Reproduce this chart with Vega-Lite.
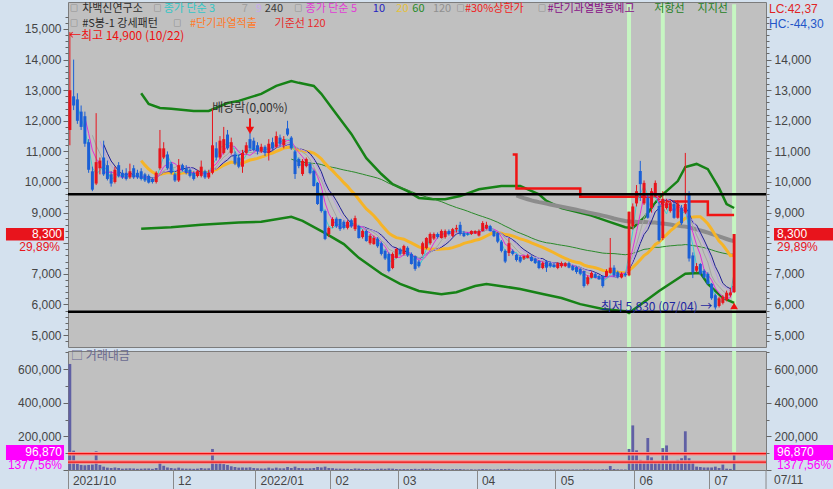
{
"$schema":"https://vega.github.io/schema/vega-lite/v6.json",
"padding":{"left":5,"top":1,"right":0,"bottom":0},
"config":{"background":"#d4e1ee","view":{"fill":"#c0c0c0","stroke":"#7c7c7c","strokeWidth":1},"font":"Noto Sans CJK KR","axis":{"labelFont":"Liberation Sans","labelFontSize":12,"labelColor":"#454545","tickColor":"#666666","domain":false,"grid":false},"text":{"font":"Noto Sans CJK KR","fontSize":11}},
"datasets":{
"px":[
{"d":"2021-10-22","o":11700,"h":14900,"l":11200,"c":13000,"v":630000},
{"d":"2021-10-25","o":12800,"h":14000,"l":12350,"c":12500,"v":115000},
{"d":"2021-10-26","o":12700,"h":12900,"l":11900,"c":12000,"v":38000},
{"d":"2021-10-27","o":12300,"h":12500,"l":11700,"c":11800,"v":30000},
{"d":"2021-10-28","o":12150,"h":12300,"l":11150,"c":11250,"v":28000},
{"d":"2021-10-29","o":11300,"h":11400,"l":10300,"c":10400,"v":30000},
{"d":"2021-11-01","o":10350,"h":10500,"l":9700,"c":9750,"v":32000},
{"d":"2021-11-02","o":9950,"h":12250,"l":9900,"c":10650,"v":111000},
{"d":"2021-11-03","o":10450,"h":10800,"l":10250,"c":10700,"v":30000},
{"d":"2021-11-04","o":10800,"h":11350,"l":10200,"c":10250,"v":20000},
{"d":"2021-11-05","o":10550,"h":10700,"l":10050,"c":10100,"v":14000},
{"d":"2021-11-08","o":10250,"h":10350,"l":9850,"c":9950,"v":12000},
{"d":"2021-11-09","o":10000,"h":10500,"l":9950,"c":10400,"v":15000},
{"d":"2021-11-10","o":10550,"h":10650,"l":10150,"c":10200,"v":12000},
{"d":"2021-11-11","o":10300,"h":10400,"l":10100,"c":10150,"v":8000},
{"d":"2021-11-12","o":10300,"h":10450,"l":10050,"c":10100,"v":9000},
{"d":"2021-11-15","o":10150,"h":10600,"l":10100,"c":10350,"v":10000},
{"d":"2021-11-16","o":10450,"h":10550,"l":10100,"c":10150,"v":9000},
{"d":"2021-11-17","o":10300,"h":10400,"l":10100,"c":10150,"v":7000},
{"d":"2021-11-18","o":10350,"h":10450,"l":10050,"c":10100,"v":8000},
{"d":"2021-11-19","o":10250,"h":10300,"l":10000,"c":10050,"v":9000},
{"d":"2021-11-22","o":10200,"h":10250,"l":9950,"c":9980,"v":9000},
{"d":"2021-11-23","o":10100,"h":10150,"l":9950,"c":10000,"v":7000},
{"d":"2021-11-24","o":10000,"h":10350,"l":9950,"c":10300,"v":12000},
{"d":"2021-11-25","o":10450,"h":11700,"l":10400,"c":11100,"v":48000},
{"d":"2021-11-26","o":10800,"h":11300,"l":10750,"c":11100,"v":25000},
{"d":"2021-11-29","o":10900,"h":11000,"l":10400,"c":10450,"v":15000},
{"d":"2021-11-30","o":10600,"h":10650,"l":10250,"c":10300,"v":12000},
{"d":"2021-12-01","o":10250,"h":10300,"l":10000,"c":10050,"v":9000},
{"d":"2021-12-02","o":10050,"h":10750,"l":10000,"c":10550,"v":14000},
{"d":"2021-12-03","o":10550,"h":10600,"l":10350,"c":10400,"v":9000},
{"d":"2021-12-06","o":10450,"h":10550,"l":10250,"c":10300,"v":8000},
{"d":"2021-12-07","o":10400,"h":10450,"l":10150,"c":10200,"v":8000},
{"d":"2021-12-08","o":10300,"h":10350,"l":10050,"c":10100,"v":7000},
{"d":"2021-12-09","o":10200,"h":10400,"l":10150,"c":10350,"v":8000},
{"d":"2021-12-10","o":10200,"h":10700,"l":10150,"c":10500,"v":12000},
{"d":"2021-12-13","o":10350,"h":10400,"l":10100,"c":10150,"v":9000},
{"d":"2021-12-14","o":10150,"h":10400,"l":10100,"c":10300,"v":10000},
{"d":"2021-12-15","o":10300,"h":12400,"l":10250,"c":11200,"v":125000},
{"d":"2021-12-16","o":11100,"h":11300,"l":10700,"c":10800,"v":40000},
{"d":"2021-12-17","o":10800,"h":11500,"l":10750,"c":11350,"v":50000},
{"d":"2021-12-20","o":10950,"h":11800,"l":10900,"c":11400,"v":35000},
{"d":"2021-12-21","o":11550,"h":11700,"l":11050,"c":11100,"v":30000},
{"d":"2021-12-22","o":10950,"h":11450,"l":10900,"c":11300,"v":22000},
{"d":"2021-12-23","o":10900,"h":11000,"l":10550,"c":10600,"v":18000},
{"d":"2021-12-24","o":10800,"h":10900,"l":10450,"c":10500,"v":14000},
{"d":"2021-12-27","o":10500,"h":11050,"l":10300,"c":10950,"v":15000},
{"d":"2021-12-28","o":10950,"h":11300,"l":10900,"c":11200,"v":14000},
{"d":"2021-12-29","o":11400,"h":11600,"l":11050,"c":11100,"v":16000},
{"d":"2021-12-30","o":11350,"h":11450,"l":11000,"c":11050,"v":12000},
{"d":"2022-01-03","o":11200,"h":11300,"l":10900,"c":11000,"v":10000},
{"d":"2022-01-04","o":11000,"h":11250,"l":10950,"c":11150,"v":9000},
{"d":"2022-01-05","o":11150,"h":11200,"l":10850,"c":10950,"v":9000},
{"d":"2022-01-06","o":10950,"h":11400,"l":10700,"c":11250,"v":14000},
{"d":"2022-01-07","o":11300,"h":11450,"l":11050,"c":11100,"v":9000},
{"d":"2022-01-10","o":11150,"h":11650,"l":11100,"c":11500,"v":14000},
{"d":"2022-01-11","o":11450,"h":11550,"l":11150,"c":11250,"v":10000},
{"d":"2022-01-12","o":11200,"h":11500,"l":11100,"c":11400,"v":10000},
{"d":"2022-01-13","o":11750,"h":12000,"l":11500,"c":11550,"v":18000},
{"d":"2022-01-14","o":11450,"h":11500,"l":11050,"c":11100,"v":12000},
{"d":"2022-01-17","o":11000,"h":11050,"l":10100,"c":10260,"v":20000},
{"d":"2022-01-18","o":10750,"h":10800,"l":10450,"c":10520,"v":12000},
{"d":"2022-01-19","o":10260,"h":10750,"l":10200,"c":10690,"v":11000},
{"d":"2022-01-20","o":10520,"h":10800,"l":10480,"c":10750,"v":9000},
{"d":"2022-01-21","o":10590,"h":10650,"l":10250,"c":10290,"v":10000},
{"d":"2022-01-24","o":10360,"h":10400,"l":9850,"c":9870,"v":12000},
{"d":"2022-01-25","o":9970,"h":10000,"l":9250,"c":9280,"v":18000},
{"d":"2022-01-26","o":9600,"h":9650,"l":9000,"c":9050,"v":15000},
{"d":"2022-01-27","o":9050,"h":9100,"l":8100,"c":8140,"v":20000},
{"d":"2022-01-28","o":8300,"h":8550,"l":8200,"c":8500,"v":12000},
{"d":"2022-02-03","o":8560,"h":8850,"l":8500,"c":8790,"v":11000},
{"d":"2022-02-04","o":8800,"h":8850,"l":8500,"c":8550,"v":8000},
{"d":"2022-02-07","o":8790,"h":8800,"l":8400,"c":8460,"v":8000},
{"d":"2022-02-08","o":8700,"h":8750,"l":8450,"c":8500,"v":7000},
{"d":"2022-02-09","o":8500,"h":8750,"l":8450,"c":8700,"v":7000},
{"d":"2022-02-10","o":8750,"h":8800,"l":8500,"c":8550,"v":6000},
{"d":"2022-02-11","o":8460,"h":8900,"l":8400,"c":8820,"v":9000},
{"d":"2022-02-14","o":8560,"h":8600,"l":8150,"c":8170,"v":8000},
{"d":"2022-02-15","o":8200,"h":8450,"l":8150,"c":8400,"v":6000},
{"d":"2022-02-16","o":8400,"h":8450,"l":8050,"c":8070,"v":6000},
{"d":"2022-02-17","o":8000,"h":8300,"l":7950,"c":8240,"v":6000},
{"d":"2022-02-18","o":7970,"h":8250,"l":7950,"c":8170,"v":5000},
{"d":"2022-02-21","o":8150,"h":8200,"l":7850,"c":7900,"v":7000},
{"d":"2022-02-22","o":8000,"h":8050,"l":7600,"c":7650,"v":8000},
{"d":"2022-02-23","o":7750,"h":7800,"l":7450,"c":7500,"v":7000},
{"d":"2022-02-24","o":7650,"h":7700,"l":7050,"c":7090,"v":9000},
{"d":"2022-02-25","o":7190,"h":7700,"l":7150,"c":7650,"v":8000},
{"d":"2022-02-28","o":7520,"h":7850,"l":7500,"c":7810,"v":6000},
{"d":"2022-03-02","o":7800,"h":7850,"l":7600,"c":7650,"v":5000},
{"d":"2022-03-03","o":7650,"h":7950,"l":7600,"c":7910,"v":6000},
{"d":"2022-03-04","o":7850,"h":7900,"l":7550,"c":7600,"v":5000},
{"d":"2022-03-07","o":7650,"h":7700,"l":7300,"c":7320,"v":6000},
{"d":"2022-03-08","o":7580,"h":7600,"l":7100,"c":7160,"v":7000},
{"d":"2022-03-10","o":7400,"h":7450,"l":7200,"c":7250,"v":5000},
{"d":"2022-03-11","o":7650,"h":8050,"l":7600,"c":8000,"v":8000},
{"d":"2022-03-14","o":7840,"h":8200,"l":7800,"c":8170,"v":7000},
{"d":"2022-03-15","o":8000,"h":8350,"l":7950,"c":8300,"v":8000},
{"d":"2022-03-16","o":8150,"h":8350,"l":8100,"c":8300,"v":6000},
{"d":"2022-03-17","o":8300,"h":8350,"l":8150,"c":8200,"v":5000},
{"d":"2022-03-18","o":8170,"h":8450,"l":8150,"c":8400,"v":6000},
{"d":"2022-03-21","o":8200,"h":8450,"l":8150,"c":8400,"v":5000},
{"d":"2022-03-22","o":8400,"h":8450,"l":8250,"c":8300,"v":4000},
{"d":"2022-03-23","o":8240,"h":8500,"l":8200,"c":8460,"v":5000},
{"d":"2022-03-24","o":8450,"h":8600,"l":8350,"c":8500,"v":5000},
{"d":"2022-03-25","o":8600,"h":8700,"l":8250,"c":8300,"v":6000},
{"d":"2022-03-28","o":8330,"h":8400,"l":8200,"c":8230,"v":4000},
{"d":"2022-03-29","o":8320,"h":8350,"l":8250,"c":8280,"v":3000},
{"d":"2022-03-30","o":8300,"h":8420,"l":8270,"c":8400,"v":4000},
{"d":"2022-03-31","o":8320,"h":8420,"l":8300,"c":8400,"v":3000},
{"d":"2022-04-01","o":8250,"h":8450,"l":8220,"c":8400,"v":4000},
{"d":"2022-04-04","o":8400,"h":8720,"l":8380,"c":8660,"v":6000},
{"d":"2022-04-05","o":8480,"h":8700,"l":8450,"c":8600,"v":5000},
{"d":"2022-04-06","o":8560,"h":8600,"l":8380,"c":8400,"v":4000},
{"d":"2022-04-07","o":8400,"h":8420,"l":8200,"c":8230,"v":3000},
{"d":"2022-04-08","o":8330,"h":8350,"l":8000,"c":8050,"v":4000},
{"d":"2022-04-11","o":8050,"h":8100,"l":7700,"c":7750,"v":5000},
{"d":"2022-04-12","o":7750,"h":7800,"l":7350,"c":7400,"v":6000},
{"d":"2022-04-13","o":7680,"h":8170,"l":7580,"c":8000,"v":7000},
{"d":"2022-04-14","o":7750,"h":7800,"l":7600,"c":7650,"v":4000},
{"d":"2022-04-15","o":7620,"h":7650,"l":7400,"c":7450,"v":3000},
{"d":"2022-04-18","o":7550,"h":7600,"l":7350,"c":7400,"v":3000},
{"d":"2022-04-19","o":7500,"h":7600,"l":7450,"c":7580,"v":3000},
{"d":"2022-04-20","o":7520,"h":7650,"l":7500,"c":7600,"v":3000},
{"d":"2022-04-21","o":7550,"h":7600,"l":7400,"c":7420,"v":3000},
{"d":"2022-04-22","o":7500,"h":7520,"l":7320,"c":7350,"v":3000},
{"d":"2022-04-25","o":7420,"h":7450,"l":7150,"c":7190,"v":4000},
{"d":"2022-04-26","o":7190,"h":7400,"l":7150,"c":7350,"v":3000},
{"d":"2022-04-27","o":7400,"h":7450,"l":7060,"c":7200,"v":3000},
{"d":"2022-04-28","o":7350,"h":7400,"l":7200,"c":7250,"v":3000},
{"d":"2022-04-29","o":7300,"h":7350,"l":7200,"c":7220,"v":3000},
{"d":"2022-05-02","o":7190,"h":7380,"l":7150,"c":7350,"v":3000},
{"d":"2022-05-03","o":7250,"h":7400,"l":7200,"c":7350,"v":3000},
{"d":"2022-05-04","o":7250,"h":7380,"l":7220,"c":7350,"v":3000},
{"d":"2022-05-06","o":7350,"h":7400,"l":7180,"c":7200,"v":3000},
{"d":"2022-05-09","o":7250,"h":7300,"l":7100,"c":7120,"v":3000},
{"d":"2022-05-10","o":7220,"h":7250,"l":7000,"c":7060,"v":3000},
{"d":"2022-05-11","o":7160,"h":7200,"l":6950,"c":7000,"v":3000},
{"d":"2022-05-12","o":7090,"h":7100,"l":6550,"c":6600,"v":5000},
{"d":"2022-05-13","o":6670,"h":6950,"l":6620,"c":6890,"v":4000},
{"d":"2022-05-16","o":6870,"h":7080,"l":6850,"c":7030,"v":3000},
{"d":"2022-05-17","o":6990,"h":7050,"l":6850,"c":6870,"v":3000},
{"d":"2022-05-18","o":6930,"h":6950,"l":6800,"c":6820,"v":3000},
{"d":"2022-05-19","o":6930,"h":6950,"l":6550,"c":6600,"v":4000},
{"d":"2022-05-20","o":6930,"h":7150,"l":6900,"c":7090,"v":4000},
{"d":"2022-05-23","o":7030,"h":8170,"l":7000,"c":7200,"v":24000},
{"d":"2022-05-24","o":7200,"h":7280,"l":6900,"c":6950,"v":6000},
{"d":"2022-05-25","o":7050,"h":7100,"l":6850,"c":6900,"v":4000},
{"d":"2022-05-26","o":6880,"h":7050,"l":6850,"c":7000,"v":3000},
{"d":"2022-05-27","o":7000,"h":7050,"l":6900,"c":6950,"v":3000},
{"d":"2022-05-30","o":6950,"h":9030,"l":6920,"c":9030,"v":125000},
{"d":"2022-05-31","o":8550,"h":9300,"l":8450,"c":9200,"v":265000},
{"d":"2022-06-02","o":9300,"h":9900,"l":9200,"c":9700,"v":117000},
{"d":"2022-06-03","o":10360,"h":10690,"l":9380,"c":9930,"v":60000},
{"d":"2022-06-07","o":9300,"h":10050,"l":9250,"c":9970,"v":50000},
{"d":"2022-06-08","o":9480,"h":9600,"l":8800,"c":8830,"v":190000},
{"d":"2022-06-09","o":9150,"h":9800,"l":9000,"c":9700,"v":75000},
{"d":"2022-06-10","o":9540,"h":10050,"l":9500,"c":9970,"v":50000},
{"d":"2022-06-13","o":9220,"h":9350,"l":8050,"c":8100,"v":50000},
{"d":"2022-06-14","o":8170,"h":9700,"l":8100,"c":9450,"v":130000},
{"d":"2022-06-15","o":9150,"h":9450,"l":9100,"c":9310,"v":146000},
{"d":"2022-06-16","o":9050,"h":9400,"l":9000,"c":9310,"v":50000},
{"d":"2022-06-17","o":9280,"h":9400,"l":8800,"c":8830,"v":50000},
{"d":"2022-06-20","o":8830,"h":9400,"l":8800,"c":9300,"v":60000},
{"d":"2022-06-21","o":9150,"h":9250,"l":8600,"c":8650,"v":70000},
{"d":"2022-06-22","o":9000,"h":10950,"l":8950,"c":9280,"v":230000},
{"d":"2022-06-23","o":9640,"h":9700,"l":7400,"c":7500,"v":70000},
{"d":"2022-06-24","o":7600,"h":7700,"l":6860,"c":7050,"v":45000},
{"d":"2022-06-27","o":7100,"h":7350,"l":7050,"c":7250,"v":20000},
{"d":"2022-06-28","o":7320,"h":7350,"l":6950,"c":7000,"v":18000},
{"d":"2022-06-29","o":7100,"h":7150,"l":6850,"c":6880,"v":15000},
{"d":"2022-06-30","o":7000,"h":7050,"l":6650,"c":6670,"v":15000},
{"d":"2022-07-01","o":6670,"h":6700,"l":6150,"c":6200,"v":15000},
{"d":"2022-07-04","o":6300,"h":6350,"l":5830,"c":5900,"v":20000},
{"d":"2022-07-05","o":5950,"h":6250,"l":5900,"c":6200,"v":12000},
{"d":"2022-07-06","o":6050,"h":6300,"l":6000,"c":6250,"v":32000},
{"d":"2022-07-07","o":6150,"h":6450,"l":6100,"c":6380,"v":8000},
{"d":"2022-07-08","o":6300,"h":6550,"l":6250,"c":6390,"v":6556},
{"d":"2022-07-11","o":6400,"h":8300,"l":6370,"c":8300,"v":96870}
],
"bandU":[
{"d":"2021-11-18","v":12900},{"d":"2021-11-22","v":12550},{"d":"2021-11-25","v":12420},{"d":"2021-11-30","v":12390},{"d":"2021-12-08","v":12320},{"d":"2021-12-14","v":12320},{"d":"2021-12-21","v":12580},{"d":"2021-12-24","v":12650},{"d":"2022-01-04","v":12880},{"d":"2022-01-10","v":13140},{"d":"2022-01-14","v":13300},{"d":"2022-01-18","v":13240},{"d":"2022-01-24","v":13140},{"d":"2022-01-26","v":12880},{"d":"2022-02-04","v":12220},{"d":"2022-02-10","v":11570},{"d":"2022-02-16","v":10780},{"d":"2022-02-22","v":10260},{"d":"2022-02-25","v":9930},{"d":"2022-03-04","v":9700},{"d":"2022-03-10","v":9480},{"d":"2022-03-16","v":9440},{"d":"2022-03-21","v":9440},{"d":"2022-03-25","v":9540},{"d":"2022-04-01","v":9760},{"d":"2022-04-11","v":9870},{"d":"2022-04-18","v":9870},{"d":"2022-04-25","v":9600},{"d":"2022-04-27","v":9380},{"d":"2022-05-03","v":9150},{"d":"2022-05-16","v":8900},{"d":"2022-05-20","v":8730},{"d":"2022-05-27","v":8520},{"d":"2022-05-31","v":8500},{"d":"2022-06-07","v":8830},{"d":"2022-06-13","v":9480},{"d":"2022-06-20","v":10030},{"d":"2022-06-22","v":10490},{"d":"2022-06-27","v":10590},{"d":"2022-06-30","v":10420},{"d":"2022-07-05","v":9800},{"d":"2022-07-07","v":9280},{"d":"2022-07-11","v":9150}
],
"bandL":[
{"d":"2021-11-18","v":8470},{"d":"2021-11-30","v":8520},{"d":"2021-12-10","v":8600},{"d":"2021-12-24","v":8680},{"d":"2022-01-04","v":8700},{"d":"2022-01-14","v":8860},{"d":"2022-01-19","v":8730},{"d":"2022-01-27","v":8330},{"d":"2022-02-08","v":7970},{"d":"2022-02-14","v":7520},{"d":"2022-02-22","v":7000},{"d":"2022-03-02","v":6670},{"d":"2022-03-10","v":6440},{"d":"2022-03-18","v":6330},{"d":"2022-03-24","v":6400},{"d":"2022-03-31","v":6600},{"d":"2022-04-05","v":6670},{"d":"2022-04-12","v":6580},{"d":"2022-04-18","v":6500},{"d":"2022-04-26","v":6340},{"d":"2022-05-03","v":6210},{"d":"2022-05-11","v":6010},{"d":"2022-05-19","v":5850},{"d":"2022-05-27","v":5780},{"d":"2022-05-30","v":5720},{"d":"2022-06-13","v":6440},{"d":"2022-06-22","v":7000},{"d":"2022-06-28","v":7030},{"d":"2022-06-30","v":6670},{"d":"2022-07-06","v":6210},{"d":"2022-07-11","v":6050}
],
"lim":[{"d":"2022-04-14","v":10900},{"d":"2022-04-15","v":9790},{"d":"2022-05-11","v":9520},{"d":"2022-06-13","v":9360},{"d":"2022-06-30","v":8920},{"d":"2022-07-11","v":8920}],
"sig":[{"d":"2022-05-30"},{"d":"2022-06-14"},{"d":"2022-07-11"}],
"hl":[{"v":9600},{"v":5760}],
"vref":[{"v":96870},{"v":47000}],
"one":[{}]
},
"vconcat":[
{
"width":698,"height":345,
"layer":[
{"data":{"name":"sig"},"mark":{"type":"rule","color":"#c6f6c2","strokeWidth":4},"encoding":{"x":{"field":"d","type":"ordinal","scale":{"domain":{"unionWith":["2022-07-12","2022-07-13","2022-07-14","2022-07-15","2022-07-18","2022-07-19","2022-07-20","2022-07-21"]},"paddingInner":0,"paddingOuter":0},"axis":null},"y":{"datum":15810,"type":"quantitative","scale":{"domain":[4608,15882],"nice":false,"zero":false},"axis":null},"y2":{"datum":4608}}},
{"data":{"name":"bandU"},"mark":{"type":"line","color":"#168216","strokeWidth":2.5},"encoding":{"x":{"field":"d","type":"ordinal","scale":{"domain":{"unionWith":["2022-07-12","2022-07-13","2022-07-14","2022-07-15","2022-07-18","2022-07-19","2022-07-20","2022-07-21"]},"paddingInner":0,"paddingOuter":0},"axis":null},"y":{"field":"v","type":"quantitative","axis":null}}},
{"data":{"name":"bandL"},"mark":{"type":"line","color":"#168216","strokeWidth":2.5},"encoding":{"x":{"field":"d","type":"ordinal","scale":{"domain":{"unionWith":["2022-07-12","2022-07-13","2022-07-14","2022-07-15","2022-07-18","2022-07-19","2022-07-20","2022-07-21"]},"paddingInner":0,"paddingOuter":0},"axis":null},"y":{"field":"v","type":"quantitative","axis":null}}},
{"data":{"name":"lim"},"mark":{"type":"line","color":"#f01414","strokeWidth":2.5,"interpolate":"step-after"},"encoding":{"x":{"field":"d","type":"ordinal","scale":{"domain":{"unionWith":["2022-07-12","2022-07-13","2022-07-14","2022-07-15","2022-07-18","2022-07-19","2022-07-20","2022-07-21"]},"paddingInner":0,"paddingOuter":0},"axis":null},"y":{"field":"v","type":"quantitative","axis":null}}},
{"data":{"name":"px"},"transform":[{"window":[{"op":"mean","field":"c","as":"m"},{"op":"count","as":"n"}],"frame":[-119,0],"sort":[{"field":"d"}]},{"filter":"datum.n >= 120"}],"mark":{"type":"line","color":"#8c8c8c","strokeWidth":4},"encoding":{"x":{"field":"d","type":"ordinal","scale":{"domain":{"unionWith":["2022-07-12","2022-07-13","2022-07-14","2022-07-15","2022-07-18","2022-07-19","2022-07-20","2022-07-21"]},"paddingInner":0,"paddingOuter":0},"axis":null},"y":{"field":"m","type":"quantitative","axis":null}}},
{"data":{"name":"px"},"transform":[{"window":[{"op":"mean","field":"c","as":"m"},{"op":"count","as":"n"}],"frame":[-59,0],"sort":[{"field":"d"}]},{"filter":"datum.n >= 60"}],"mark":{"type":"line","color":"#2a8a2a","strokeWidth":1},"encoding":{"x":{"field":"d","type":"ordinal","scale":{"domain":{"unionWith":["2022-07-12","2022-07-13","2022-07-14","2022-07-15","2022-07-18","2022-07-19","2022-07-20","2022-07-21"]},"paddingInner":0,"paddingOuter":0},"axis":null},"y":{"field":"m","type":"quantitative","axis":null}}},
{"data":{"name":"px"},"transform":[{"window":[{"op":"mean","field":"c","as":"m"},{"op":"count","as":"n"}],"frame":[-19,0],"sort":[{"field":"d"}]},{"filter":"datum.n >= 20"}],"mark":{"type":"line","color":"#f5b428","strokeWidth":3},"encoding":{"x":{"field":"d","type":"ordinal","scale":{"domain":{"unionWith":["2022-07-12","2022-07-13","2022-07-14","2022-07-15","2022-07-18","2022-07-19","2022-07-20","2022-07-21"]},"paddingInner":0,"paddingOuter":0},"axis":null},"y":{"field":"m","type":"quantitative","axis":null}}},
{"data":{"name":"px"},"transform":[{"window":[{"op":"mean","field":"c","as":"m"},{"op":"count","as":"n"}],"frame":[-9,0],"sort":[{"field":"d"}]},{"filter":"datum.n >= 10"}],"mark":{"type":"line","color":"#1c1c96","strokeWidth":1},"encoding":{"x":{"field":"d","type":"ordinal","scale":{"domain":{"unionWith":["2022-07-12","2022-07-13","2022-07-14","2022-07-15","2022-07-18","2022-07-19","2022-07-20","2022-07-21"]},"paddingInner":0,"paddingOuter":0},"axis":null},"y":{"field":"m","type":"quantitative","axis":null}}},
{"data":{"name":"px"},"transform":[{"window":[{"op":"mean","field":"c","as":"m"},{"op":"count","as":"n"}],"frame":[-8,0],"sort":[{"field":"d"}]},{"filter":"datum.n >= 9"}],"mark":{"type":"line","color":"#b89ae6","strokeWidth":1},"encoding":{"x":{"field":"d","type":"ordinal","scale":{"domain":{"unionWith":["2022-07-12","2022-07-13","2022-07-14","2022-07-15","2022-07-18","2022-07-19","2022-07-20","2022-07-21"]},"paddingInner":0,"paddingOuter":0},"axis":null},"y":{"field":"m","type":"quantitative","axis":null}}},
{"data":{"name":"px"},"transform":[{"window":[{"op":"mean","field":"c","as":"m"},{"op":"count","as":"n"}],"frame":[-6,0],"sort":[{"field":"d"}]},{"filter":"datum.n >= 7"}],"mark":{"type":"line","color":"#a4a4a4","strokeWidth":1},"encoding":{"x":{"field":"d","type":"ordinal","scale":{"domain":{"unionWith":["2022-07-12","2022-07-13","2022-07-14","2022-07-15","2022-07-18","2022-07-19","2022-07-20","2022-07-21"]},"paddingInner":0,"paddingOuter":0},"axis":null},"y":{"field":"m","type":"quantitative","axis":null}}},
{"data":{"name":"px"},"transform":[{"window":[{"op":"mean","field":"c","as":"m"},{"op":"count","as":"n"}],"frame":[-4,0],"sort":[{"field":"d"}]},{"filter":"datum.n >= 5"}],"mark":{"type":"line","color":"#e030d8","strokeWidth":1},"encoding":{"x":{"field":"d","type":"ordinal","scale":{"domain":{"unionWith":["2022-07-12","2022-07-13","2022-07-14","2022-07-15","2022-07-18","2022-07-19","2022-07-20","2022-07-21"]},"paddingInner":0,"paddingOuter":0},"axis":null},"y":{"field":"m","type":"quantitative","axis":null}}},
{"data":{"name":"px"},"transform":[{"window":[{"op":"mean","field":"c","as":"m"},{"op":"count","as":"n"}],"frame":[-2,0],"sort":[{"field":"d"}]},{"filter":"datum.n >= 3"}],"mark":{"type":"line","color":"#3cd0d0","strokeWidth":1},"encoding":{"x":{"field":"d","type":"ordinal","scale":{"domain":{"unionWith":["2022-07-12","2022-07-13","2022-07-14","2022-07-15","2022-07-18","2022-07-19","2022-07-20","2022-07-21"]},"paddingInner":0,"paddingOuter":0},"axis":null},"y":{"field":"m","type":"quantitative","axis":null}}},
{"data":{"name":"px"},"mark":{"type":"rule","strokeWidth":1},"encoding":{"x":{"field":"d","type":"ordinal","scale":{"domain":{"unionWith":["2022-07-12","2022-07-13","2022-07-14","2022-07-15","2022-07-18","2022-07-19","2022-07-20","2022-07-21"]},"paddingInner":0,"paddingOuter":0},"axis":null},"y":{"field":"l","type":"quantitative","title":null,"axis":{"orient":"left","values":[4800,5000,5200,5400,5600,5800,6000,6200,6400,6600,6800,7000,7200,7400,7600,7800,8000,8200,8400,8600,8800,9000,9200,9400,9600,9800,10000,10200,10400,10600,10800,11000,11200,11400,11600,11800,12000,12200,12400,12600,12800,13000,13200,13400,13600,13800,14000,14200,14400,14600,14800,15000,15200,15400],"labelExpr":"datum.value % 1000 === 0 && datum.value !== 8000 ? format(datum.value, ',') : ''","tickSize":{"condition":{"test":"datum.value % 1000 === 0","value":5},"value":3},"labelOverlap":false,"labelFlush":false,"labelPadding":2,"title":null}},"y2":{"field":"h"},"color":{"condition":{"test":"datum.c >= datum.o","value":"#e8141c"},"value":"#1a5fd6"}}},
{"data":{"name":"px"},"mark":{"type":"bar","width":{"band":0.8}},"encoding":{"x":{"field":"d","type":"ordinal","scale":{"domain":{"unionWith":["2022-07-12","2022-07-13","2022-07-14","2022-07-15","2022-07-18","2022-07-19","2022-07-20","2022-07-21"]},"paddingInner":0,"paddingOuter":0},"axis":null},"y":{"field":"o","type":"quantitative","axis":null},"y2":{"field":"c"},"color":{"condition":{"test":"datum.c >= datum.o","value":"#e8141c"},"value":"#1a5fd6"}}},
{"data":{"name":"hl"},"mark":{"type":"rule","color":"#000000","strokeWidth":2.5},"encoding":{"y":{"field":"v","type":"quantitative","axis":null}}},
{"data":{"name":"one"},"mark":{"type":"text","align":"left","baseline":"middle","color":"#ee1111","fontSize":12,"dx":-1},"encoding":{"x":{"datum":"2021-10-22","type":"ordinal","scale":{"domain":{"unionWith":["2022-07-12","2022-07-13","2022-07-14","2022-07-15","2022-07-18","2022-07-19","2022-07-20","2022-07-21"]},"paddingInner":0,"paddingOuter":0},"axis":null},"y":{"datum":14760,"type":"quantitative","axis":null},"text":{"value":"←최고 14,900 (10/22)"}}},
{"data":{"name":"one"},"mark":{"type":"text","align":"center","baseline":"middle","color":"#303030","fontSize":12},"encoding":{"x":{"datum":"2021-12-29","type":"ordinal","scale":{"domain":{"unionWith":["2022-07-12","2022-07-13","2022-07-14","2022-07-15","2022-07-18","2022-07-19","2022-07-20","2022-07-21"]},"paddingInner":0,"paddingOuter":0},"axis":null},"y":{"datum":12420,"type":"quantitative","axis":null},"text":{"value":"배당락(0,00%)"}}},
{"data":{"name":"one"},"mark":{"type":"rule","color":"#ee1111","strokeWidth":2},"encoding":{"x":{"datum":"2021-12-29","type":"ordinal","scale":{"domain":{"unionWith":["2022-07-12","2022-07-13","2022-07-14","2022-07-15","2022-07-18","2022-07-19","2022-07-20","2022-07-21"]},"paddingInner":0,"paddingOuter":0},"axis":null},"y":{"datum":12080,"type":"quantitative","axis":null},"y2":{"datum":11760}}},
{"data":{"name":"one"},"mark":{"type":"point","shape":"triangle-down","filled":true,"color":"#ee1111","size":70,"opacity":1},"encoding":{"x":{"datum":"2021-12-29","type":"ordinal","scale":{"domain":{"unionWith":["2022-07-12","2022-07-13","2022-07-14","2022-07-15","2022-07-18","2022-07-19","2022-07-20","2022-07-21"]},"paddingInner":0,"paddingOuter":0},"axis":null},"y":{"datum":11690,"type":"quantitative","axis":null}}},
{"data":{"name":"one"},"mark":{"type":"text","align":"right","baseline":"middle","color":"#1e28a0","fontSize":12,"dx":-3},"encoding":{"x":{"datum":"2022-07-04","type":"ordinal","scale":{"domain":{"unionWith":["2022-07-12","2022-07-13","2022-07-14","2022-07-15","2022-07-18","2022-07-19","2022-07-20","2022-07-21"]},"paddingInner":0,"paddingOuter":0},"axis":null},"y":{"datum":5930,"type":"quantitative","axis":null},"text":{"value":"최저 5,830 (07/04) →"}}},
{"data":{"name":"one"},"mark":{"type":"point","shape":"triangle-up","filled":true,"color":"#ee1111","size":60,"opacity":1},"encoding":{"x":{"datum":"2022-07-11","type":"ordinal","scale":{"domain":{"unionWith":["2022-07-12","2022-07-13","2022-07-14","2022-07-15","2022-07-18","2022-07-19","2022-07-20","2022-07-21"]},"paddingInner":0,"paddingOuter":0},"axis":null},"y":{"datum":5950,"type":"quantitative","axis":null}}},
{"data":{"name":"one"},"mark":{"type":"text","align":"left","baseline":"middle","color":"#666666","fontSize":8},"encoding":{"x":{"datum":"2021-10-22","type":"ordinal","scale":{"domain":{"unionWith":["2022-07-12","2022-07-13","2022-07-14","2022-07-15","2022-07-18","2022-07-19","2022-07-20","2022-07-21"]},"paddingInner":0,"paddingOuter":0},"axis":null},"y":{"datum":15650,"type":"quantitative","axis":null},"text":{"value":"□"}}},
{"data":{"name":"one"},"mark":{"type":"text","align":"left","baseline":"middle","color":"#2a2a2a","dx":1},"encoding":{"x":{"datum":"2021-10-27","type":"ordinal","scale":{"domain":{"unionWith":["2022-07-12","2022-07-13","2022-07-14","2022-07-15","2022-07-18","2022-07-19","2022-07-20","2022-07-21"]},"paddingInner":0,"paddingOuter":0},"axis":null},"y":{"datum":15650,"type":"quantitative","axis":null},"text":{"value":"차백신연구소"}}},
{"data":{"name":"one"},"mark":{"type":"text","align":"left","baseline":"middle","color":"#666666","fontSize":8,"dx":1},"encoding":{"x":{"datum":"2021-11-23","type":"ordinal","scale":{"domain":{"unionWith":["2022-07-12","2022-07-13","2022-07-14","2022-07-15","2022-07-18","2022-07-19","2022-07-20","2022-07-21"]},"paddingInner":0,"paddingOuter":0},"axis":null},"y":{"datum":15650,"type":"quantitative","axis":null},"text":{"value":"□"}}},
{"data":{"name":"one"},"mark":{"type":"text","align":"left","baseline":"middle","color":"#33c6c6"},"encoding":{"x":{"datum":"2021-11-26","type":"ordinal","scale":{"domain":{"unionWith":["2022-07-12","2022-07-13","2022-07-14","2022-07-15","2022-07-18","2022-07-19","2022-07-20","2022-07-21"]},"paddingInner":0,"paddingOuter":0},"axis":null},"y":{"datum":15650,"type":"quantitative","axis":null},"text":{"value":"종가 단순 3"}}},
{"data":{"name":"one"},"mark":{"type":"text","align":"left","baseline":"middle","color":"#a0a0a0","dx":3},"encoding":{"x":{"datum":"2021-12-24","type":"ordinal","scale":{"domain":{"unionWith":["2022-07-12","2022-07-13","2022-07-14","2022-07-15","2022-07-18","2022-07-19","2022-07-20","2022-07-21"]},"paddingInner":0,"paddingOuter":0},"axis":null},"y":{"datum":15650,"type":"quantitative","axis":null},"text":{"value":"7"}}},
{"data":{"name":"one"},"mark":{"type":"text","align":"left","baseline":"middle","color":"#c4a8ee","dx":2},"encoding":{"x":{"datum":"2021-12-30","type":"ordinal","scale":{"domain":{"unionWith":["2022-07-12","2022-07-13","2022-07-14","2022-07-15","2022-07-18","2022-07-19","2022-07-20","2022-07-21"]},"paddingInner":0,"paddingOuter":0},"axis":null},"y":{"datum":15650,"type":"quantitative","axis":null},"text":{"value":"9"}}},
{"data":{"name":"one"},"mark":{"type":"text","align":"left","baseline":"middle","color":"#3a3a3a","dx":-4},"encoding":{"x":{"datum":"2022-01-06","type":"ordinal","scale":{"domain":{"unionWith":["2022-07-12","2022-07-13","2022-07-14","2022-07-15","2022-07-18","2022-07-19","2022-07-20","2022-07-21"]},"paddingInner":0,"paddingOuter":0},"axis":null},"y":{"datum":15650,"type":"quantitative","axis":null},"text":{"value":"240"}}},
{"data":{"name":"one"},"mark":{"type":"text","align":"left","baseline":"middle","color":"#666666","fontSize":8,"dx":3},"encoding":{"x":{"datum":"2022-01-14","type":"ordinal","scale":{"domain":{"unionWith":["2022-07-12","2022-07-13","2022-07-14","2022-07-15","2022-07-18","2022-07-19","2022-07-20","2022-07-21"]},"paddingInner":0,"paddingOuter":0},"axis":null},"y":{"datum":15650,"type":"quantitative","axis":null},"text":{"value":"□"}}},
{"data":{"name":"one"},"mark":{"type":"text","align":"left","baseline":"middle","color":"#e03cd6","dx":3},"encoding":{"x":{"datum":"2022-01-19","type":"ordinal","scale":{"domain":{"unionWith":["2022-07-12","2022-07-13","2022-07-14","2022-07-15","2022-07-18","2022-07-19","2022-07-20","2022-07-21"]},"paddingInner":0,"paddingOuter":0},"axis":null},"y":{"datum":15650,"type":"quantitative","axis":null},"text":{"value":"종가 단순 5"}}},
{"data":{"name":"one"},"mark":{"type":"text","align":"left","baseline":"middle","color":"#2424c0","dx":-1},"encoding":{"x":{"datum":"2022-02-18","type":"ordinal","scale":{"domain":{"unionWith":["2022-07-12","2022-07-13","2022-07-14","2022-07-15","2022-07-18","2022-07-19","2022-07-20","2022-07-21"]},"paddingInner":0,"paddingOuter":0},"axis":null},"y":{"datum":15650,"type":"quantitative","axis":null},"text":{"value":"10"}}},
{"data":{"name":"one"},"mark":{"type":"text","align":"left","baseline":"middle","color":"#e6c23c"},"encoding":{"x":{"datum":"2022-02-28","type":"ordinal","scale":{"domain":{"unionWith":["2022-07-12","2022-07-13","2022-07-14","2022-07-15","2022-07-18","2022-07-19","2022-07-20","2022-07-21"]},"paddingInner":0,"paddingOuter":0},"axis":null},"y":{"datum":15650,"type":"quantitative","axis":null},"text":{"value":"20"}}},
{"data":{"name":"one"},"mark":{"type":"text","align":"left","baseline":"middle","color":"#278a27","dx":1},"encoding":{"x":{"datum":"2022-03-07","type":"ordinal","scale":{"domain":{"unionWith":["2022-07-12","2022-07-13","2022-07-14","2022-07-15","2022-07-18","2022-07-19","2022-07-20","2022-07-21"]},"paddingInner":0,"paddingOuter":0},"axis":null},"y":{"datum":15650,"type":"quantitative","axis":null},"text":{"value":"60"}}},
{"data":{"name":"one"},"mark":{"type":"text","align":"left","baseline":"middle","color":"#909090","dx":-1},"encoding":{"x":{"datum":"2022-03-16","type":"ordinal","scale":{"domain":{"unionWith":["2022-07-12","2022-07-13","2022-07-14","2022-07-15","2022-07-18","2022-07-19","2022-07-20","2022-07-21"]},"paddingInner":0,"paddingOuter":0},"axis":null},"y":{"datum":15650,"type":"quantitative","axis":null},"text":{"value":"120"}}},
{"data":{"name":"one"},"mark":{"type":"text","align":"left","baseline":"middle","color":"#666666","fontSize":8,"dx":0},"encoding":{"x":{"datum":"2022-03-24","type":"ordinal","scale":{"domain":{"unionWith":["2022-07-12","2022-07-13","2022-07-14","2022-07-15","2022-07-18","2022-07-19","2022-07-20","2022-07-21"]},"paddingInner":0,"paddingOuter":0},"axis":null},"y":{"datum":15650,"type":"quantitative","axis":null},"text":{"value":"□"}}},
{"data":{"name":"one"},"mark":{"type":"text","align":"left","baseline":"middle","color":"#f01c1c","dx":1},"encoding":{"x":{"datum":"2022-03-28","type":"ordinal","scale":{"domain":{"unionWith":["2022-07-12","2022-07-13","2022-07-14","2022-07-15","2022-07-18","2022-07-19","2022-07-20","2022-07-21"]},"paddingInner":0,"paddingOuter":0},"axis":null},"y":{"datum":15650,"type":"quantitative","axis":null},"text":{"value":"#30%상한가"}}},
{"data":{"name":"one"},"mark":{"type":"text","align":"left","baseline":"middle","color":"#666666","fontSize":8,"dx":-1},"encoding":{"x":{"datum":"2022-04-25","type":"ordinal","scale":{"domain":{"unionWith":["2022-07-12","2022-07-13","2022-07-14","2022-07-15","2022-07-18","2022-07-19","2022-07-20","2022-07-21"]},"paddingInner":0,"paddingOuter":0},"axis":null},"y":{"datum":15650,"type":"quantitative","axis":null},"text":{"value":"□"}}},
{"data":{"name":"one"},"mark":{"type":"text","align":"left","baseline":"middle","color":"#860f86","dx":1},"encoding":{"x":{"datum":"2022-04-27","type":"ordinal","scale":{"domain":{"unionWith":["2022-07-12","2022-07-13","2022-07-14","2022-07-15","2022-07-18","2022-07-19","2022-07-20","2022-07-21"]},"paddingInner":0,"paddingOuter":0},"axis":null},"y":{"datum":15650,"type":"quantitative","axis":null},"text":{"value":"#단기과열발동예고"}}},
{"data":{"name":"one"},"mark":{"type":"text","align":"left","baseline":"middle","color":"#1f7f1f","dx":-1},"encoding":{"x":{"datum":"2022-06-10","type":"ordinal","scale":{"domain":{"unionWith":["2022-07-12","2022-07-13","2022-07-14","2022-07-15","2022-07-18","2022-07-19","2022-07-20","2022-07-21"]},"paddingInner":0,"paddingOuter":0},"axis":null},"y":{"datum":15650,"type":"quantitative","axis":null},"text":{"value":"저항선"}}},
{"data":{"name":"one"},"mark":{"type":"text","align":"left","baseline":"middle","color":"#1f7f1f","dx":1},"encoding":{"x":{"datum":"2022-06-27","type":"ordinal","scale":{"domain":{"unionWith":["2022-07-12","2022-07-13","2022-07-14","2022-07-15","2022-07-18","2022-07-19","2022-07-20","2022-07-21"]},"paddingInner":0,"paddingOuter":0},"axis":null},"y":{"datum":15650,"type":"quantitative","axis":null},"text":{"value":"지지선"}}},
{"data":{"name":"one"},"mark":{"type":"text","align":"left","baseline":"middle","color":"#666666","fontSize":8},"encoding":{"x":{"datum":"2021-10-22","type":"ordinal","scale":{"domain":{"unionWith":["2022-07-12","2022-07-13","2022-07-14","2022-07-15","2022-07-18","2022-07-19","2022-07-20","2022-07-21"]},"paddingInner":0,"paddingOuter":0},"axis":null},"y":{"datum":15170,"type":"quantitative","axis":null},"text":{"value":"□"}}},
{"data":{"name":"one"},"mark":{"type":"text","align":"left","baseline":"middle","color":"#2a2a2a","dx":1},"encoding":{"x":{"datum":"2021-10-27","type":"ordinal","scale":{"domain":{"unionWith":["2022-07-12","2022-07-13","2022-07-14","2022-07-15","2022-07-18","2022-07-19","2022-07-20","2022-07-21"]},"paddingInner":0,"paddingOuter":0},"axis":null},"y":{"datum":15170,"type":"quantitative","axis":null},"text":{"value":"#S봉-1 강세패턴"}}},
{"data":{"name":"one"},"mark":{"type":"text","align":"left","baseline":"middle","color":"#666666","fontSize":8,"dx":2},"encoding":{"x":{"datum":"2021-11-30","type":"ordinal","scale":{"domain":{"unionWith":["2022-07-12","2022-07-13","2022-07-14","2022-07-15","2022-07-18","2022-07-19","2022-07-20","2022-07-21"]},"paddingInner":0,"paddingOuter":0},"axis":null},"y":{"datum":15170,"type":"quantitative","axis":null},"text":{"value":"□"}}},
{"data":{"name":"one"},"mark":{"type":"text","align":"left","baseline":"middle","color":"#ff7a2a","dx":0},"encoding":{"x":{"datum":"2021-12-07","type":"ordinal","scale":{"domain":{"unionWith":["2022-07-12","2022-07-13","2022-07-14","2022-07-15","2022-07-18","2022-07-19","2022-07-20","2022-07-21"]},"paddingInner":0,"paddingOuter":0},"axis":null},"y":{"datum":15170,"type":"quantitative","axis":null},"text":{"value":"#단기과열적출"}}},
{"data":{"name":"one"},"mark":{"type":"text","align":"left","baseline":"middle","color":"#e82a2a","dx":2},"encoding":{"x":{"datum":"2022-01-07","type":"ordinal","scale":{"domain":{"unionWith":["2022-07-12","2022-07-13","2022-07-14","2022-07-15","2022-07-18","2022-07-19","2022-07-20","2022-07-21"]},"paddingInner":0,"paddingOuter":0},"axis":null},"y":{"datum":15170,"type":"quantitative","axis":null},"text":{"value":"기준선 120"}}},
{"data":{"name":"one"},"mark":{"type":"bar","color":"#e8141c","width":58,"xOffset":-34.9},"encoding":{"x":{"datum":"2021-10-22","type":"ordinal","scale":{"domain":{"unionWith":["2022-07-12","2022-07-13","2022-07-14","2022-07-15","2022-07-18","2022-07-19","2022-07-20","2022-07-21"]},"paddingInner":0,"paddingOuter":0},"axis":null},"y":{"datum":8500,"type":"quantitative","title":null,"axis":{"orient":"right","values":[4800,5000,5200,5400,5600,5800,6000,6200,6400,6600,6800,7000,7200,7400,7600,7800,8000,8200,8400,8600,8800,9000,9200,9400,9600,9800,10000,10200,10400,10600,10800,11000,11200,11400,11600,11800,12000,12200,12400,12600,12800,13000,13200,13400,13600,13800,14000,14200,14400,14600,14800,15000,15200,15400],"labelExpr":"datum.value % 1000 === 0 && datum.value !== 8000 && datum.value < 15000 ? format(datum.value, ',') : ''","tickSize":{"condition":{"test":"datum.value % 1000 === 0","value":5},"value":3},"labelOverlap":false,"labelFlush":false,"labelPadding":3,"title":null}},"y2":{"datum":8090}}},
{"data":{"name":"one"},"mark":{"type":"bar","color":"#e8141c","width":60,"xOffset":39.9},"encoding":{"x":{"datum":"2022-07-21","type":"ordinal","scale":{"domain":{"unionWith":["2022-07-12","2022-07-13","2022-07-14","2022-07-15","2022-07-18","2022-07-19","2022-07-20","2022-07-21"]},"paddingInner":0,"paddingOuter":0},"axis":null},"y":{"datum":8500,"type":"quantitative","axis":null},"y2":{"datum":8090}}},
{"data":{"name":"one"},"mark":{"type":"text","align":"right","baseline":"middle","color":"#ffffff","font":"Liberation Sans","fontSize":12,"dx":-7.9},"encoding":{"x":{"datum":"2021-10-22","type":"ordinal","scale":{"domain":{"unionWith":["2022-07-12","2022-07-13","2022-07-14","2022-07-15","2022-07-18","2022-07-19","2022-07-20","2022-07-21"]},"paddingInner":0,"paddingOuter":0},"axis":null},"y":{"datum":8300,"type":"quantitative","axis":null},"text":{"value":"8,300"}}},
{"data":{"name":"one"},"mark":{"type":"text","align":"left","baseline":"middle","color":"#ffffff","font":"Liberation Sans","fontSize":12,"dx":12.9},"encoding":{"x":{"datum":"2022-07-21","type":"ordinal","scale":{"domain":{"unionWith":["2022-07-12","2022-07-13","2022-07-14","2022-07-15","2022-07-18","2022-07-19","2022-07-20","2022-07-21"]},"paddingInner":0,"paddingOuter":0},"axis":null},"y":{"datum":8300,"type":"quantitative","axis":null},"text":{"value":"8,300"}}},
{"data":{"name":"one"},"mark":{"type":"text","align":"right","baseline":"middle","color":"#e8141c","font":"Liberation Sans","fontSize":12,"dx":-9.9},"encoding":{"x":{"datum":"2021-10-22","type":"ordinal","scale":{"domain":{"unionWith":["2022-07-12","2022-07-13","2022-07-14","2022-07-15","2022-07-18","2022-07-19","2022-07-20","2022-07-21"]},"paddingInner":0,"paddingOuter":0},"axis":null},"y":{"datum":7880,"type":"quantitative","axis":null},"text":{"value":"29,89%"}}},
{"data":{"name":"one"},"mark":{"type":"text","align":"left","baseline":"middle","color":"#e8141c","font":"Liberation Sans","fontSize":12,"dx":12.9},"encoding":{"x":{"datum":"2022-07-21","type":"ordinal","scale":{"domain":{"unionWith":["2022-07-12","2022-07-13","2022-07-14","2022-07-15","2022-07-18","2022-07-19","2022-07-20","2022-07-21"]},"paddingInner":0,"paddingOuter":0},"axis":null},"y":{"datum":7880,"type":"quantitative","axis":null},"text":{"value":"29,89%"}}},
{"data":{"name":"one"},"mark":{"type":"text","align":"left","baseline":"middle","color":"#e02424","font":"Liberation Sans","fontSize":12,"dx":4.9},"encoding":{"x":{"datum":"2022-07-21","type":"ordinal","scale":{"domain":{"unionWith":["2022-07-12","2022-07-13","2022-07-14","2022-07-15","2022-07-18","2022-07-19","2022-07-20","2022-07-21"]},"paddingInner":0,"paddingOuter":0},"axis":null},"y":{"datum":15650,"type":"quantitative","axis":null},"text":{"value":"LC:42,37"}}},
{"data":{"name":"one"},"mark":{"type":"text","align":"left","baseline":"middle","color":"#2456c8","font":"Liberation Sans","fontSize":12,"dx":4.9},"encoding":{"x":{"datum":"2022-07-21","type":"ordinal","scale":{"domain":{"unionWith":["2022-07-12","2022-07-13","2022-07-14","2022-07-15","2022-07-18","2022-07-19","2022-07-20","2022-07-21"]},"paddingInner":0,"paddingOuter":0},"axis":null},"y":{"datum":15170,"type":"quantitative","axis":null},"text":{"value":"HC:-44,30"}}}
],
"resolve":{"axis":{"x":"independent","y":"independent"}}
},
{
"width":698,"height":119,
"layer":[
{"data":{"name":"sig"},"mark":{"type":"rule","color":"#c6f6c2","strokeWidth":4},"encoding":{"x":{"field":"d","type":"ordinal","scale":{"domain":{"unionWith":["2022-07-12","2022-07-13","2022-07-14","2022-07-15","2022-07-18","2022-07-19","2022-07-20","2022-07-21"]},"paddingInner":0,"paddingOuter":0},"axis":null}}},
{"data":{"name":"px"},"mark":{"type":"bar","color":"#6060a4","width":{"band":0.75}},"encoding":{"x":{"field":"d","type":"ordinal","scale":{"domain":{"unionWith":["2022-07-12","2022-07-13","2022-07-14","2022-07-15","2022-07-18","2022-07-19","2022-07-20","2022-07-21"]},"paddingInner":0,"paddingOuter":0},"title":null,"axis":{"orient":"bottom","values":["2021-10-22","2021-12-01","2022-01-03","2022-02-03","2022-03-02","2022-04-01","2022-05-02","2022-06-02","2022-07-01"],"labelExpr":"datum.value == '2021-10-22' ? '2021/10' : datum.value == '2022-01-03' ? '2022/01' : slice(datum.value, 5, 7)","bandPosition":0,"tickSize":20,"tickColor":"#8a8a8a","labelAlign":"left","labelBaseline":"middle","labelPadding":-10,"labelOffset":3,"labelAngle":0,"title":null}},"y":{"field":"v","type":"quantitative","scale":{"domain":[0,707000],"nice":false,"zero":false},"title":null,"axis":{"orient":"left","values":[0,100000,200000,300000,400000,500000,600000,700000],"labelExpr":"datum.value % 200000 === 0 && datum.value > 0 ? format(datum.value, ',') : ''","tickSize":{"condition":{"test":"datum.value % 200000 === 0","value":5},"value":3},"labelOverlap":false,"labelFlush":false,"labelPadding":2,"title":null}}}},
{"data":{"name":"vref"},"mark":{"type":"rule","color":"#ff8a8a","strokeWidth":3.5},"encoding":{"y":{"field":"v","type":"quantitative","axis":null}}},
{"data":{"name":"vref"},"mark":{"type":"rule","color":"#e81010","strokeWidth":1.2},"encoding":{"y":{"field":"v","type":"quantitative","axis":null}}},
{"data":{"name":"one"},"mark":{"type":"bar","color":"#ff00ff","width":58,"xOffset":-34.9},"encoding":{"x":{"datum":"2021-10-22","type":"ordinal","scale":{"domain":{"unionWith":["2022-07-12","2022-07-13","2022-07-14","2022-07-15","2022-07-18","2022-07-19","2022-07-20","2022-07-21"]},"paddingInner":0,"paddingOuter":0},"axis":null},"y":{"datum":148000,"type":"quantitative","title":null,"axis":{"orient":"right","values":[0,100000,200000,300000,400000,500000,600000,700000],"labelExpr":"datum.value % 200000 === 0 && datum.value > 0 ? format(datum.value, ',') : ''","tickSize":{"condition":{"test":"datum.value % 200000 === 0","value":5},"value":3},"labelOverlap":false,"labelFlush":false,"labelPadding":3,"title":null}},"y2":{"datum":59000}}},
{"data":{"name":"one"},"mark":{"type":"bar","color":"#ff00ff","width":59,"xOffset":39.4},"encoding":{"x":{"datum":"2022-07-21","type":"ordinal","scale":{"domain":{"unionWith":["2022-07-12","2022-07-13","2022-07-14","2022-07-15","2022-07-18","2022-07-19","2022-07-20","2022-07-21"]},"paddingInner":0,"paddingOuter":0},"axis":null},"y":{"datum":148000,"type":"quantitative","axis":null},"y2":{"datum":59000}}},
{"data":{"name":"one"},"mark":{"type":"text","align":"right","baseline":"middle","color":"#ffffff","font":"Liberation Sans","fontSize":12,"dx":-7.9},"encoding":{"x":{"datum":"2021-10-22","type":"ordinal","scale":{"domain":{"unionWith":["2022-07-12","2022-07-13","2022-07-14","2022-07-15","2022-07-18","2022-07-19","2022-07-20","2022-07-21"]},"paddingInner":0,"paddingOuter":0},"axis":null},"y":{"datum":104000,"type":"quantitative","axis":null},"text":{"value":"96,870"}}},
{"data":{"name":"one"},"mark":{"type":"text","align":"left","baseline":"middle","color":"#ffffff","font":"Liberation Sans","fontSize":12,"dx":12.9},"encoding":{"x":{"datum":"2022-07-21","type":"ordinal","scale":{"domain":{"unionWith":["2022-07-12","2022-07-13","2022-07-14","2022-07-15","2022-07-18","2022-07-19","2022-07-20","2022-07-21"]},"paddingInner":0,"paddingOuter":0},"axis":null},"y":{"datum":104000,"type":"quantitative","axis":null},"text":{"value":"96,870"}}},
{"data":{"name":"one"},"mark":{"type":"text","align":"right","baseline":"middle","color":"#ff00ff","font":"Liberation Sans","fontSize":12,"dx":-7.9},"encoding":{"x":{"datum":"2021-10-22","type":"ordinal","scale":{"domain":{"unionWith":["2022-07-12","2022-07-13","2022-07-14","2022-07-15","2022-07-18","2022-07-19","2022-07-20","2022-07-21"]},"paddingInner":0,"paddingOuter":0},"axis":null},"y":{"datum":29000,"type":"quantitative","axis":null},"text":{"value":"1377,56%"}}},
{"data":{"name":"one"},"mark":{"type":"text","align":"left","baseline":"middle","color":"#ff00ff","font":"Liberation Sans","fontSize":12,"dx":12.9},"encoding":{"x":{"datum":"2022-07-21","type":"ordinal","scale":{"domain":{"unionWith":["2022-07-12","2022-07-13","2022-07-14","2022-07-15","2022-07-18","2022-07-19","2022-07-20","2022-07-21"]},"paddingInner":0,"paddingOuter":0},"axis":null},"y":{"datum":29000,"type":"quantitative","axis":null},"text":{"value":"1377,56%"}}},
{"data":{"name":"one"},"mark":{"type":"text","align":"left","baseline":"middle","color":"#6a6a90","fontSize":12,"dx":1.1},"encoding":{"x":{"datum":"2021-10-22","type":"ordinal","scale":{"domain":{"unionWith":["2022-07-12","2022-07-13","2022-07-14","2022-07-15","2022-07-18","2022-07-19","2022-07-20","2022-07-21"]},"paddingInner":0,"paddingOuter":0},"axis":null},"y":{"datum":675000,"type":"quantitative","axis":null},"text":{"value":"□ 거래대금"}}},
{"data":{"name":"one"},"mark":{"type":"rule","color":"#8a8a8a","strokeWidth":1,"xOffset":1.9},"encoding":{"x":{"datum":"2022-07-21","type":"ordinal","scale":{"domain":{"unionWith":["2022-07-12","2022-07-13","2022-07-14","2022-07-15","2022-07-18","2022-07-19","2022-07-20","2022-07-21"]},"paddingInner":0,"paddingOuter":0},"axis":null},"y":{"datum":0,"type":"quantitative","axis":null},"y2":{"datum":-120000}}},
{"data":{"name":"one"},"mark":{"type":"text","align":"left","baseline":"middle","color":"#454545","font":"Liberation Sans","fontSize":12,"dx":9.9},"encoding":{"x":{"datum":"2022-07-21","type":"ordinal","scale":{"domain":{"unionWith":["2022-07-12","2022-07-13","2022-07-14","2022-07-15","2022-07-18","2022-07-19","2022-07-20","2022-07-21"]},"paddingInner":0,"paddingOuter":0},"axis":null},"y":{"datum":-59400,"type":"quantitative","axis":null},"text":{"value":"07/11"}}}
],
"resolve":{"axis":{"x":"independent","y":"independent"}}
}
],
"spacing":4,
"bounds":"flush",
"resolve":{"scale":{"x":"independent","y":"independent"}}
}
